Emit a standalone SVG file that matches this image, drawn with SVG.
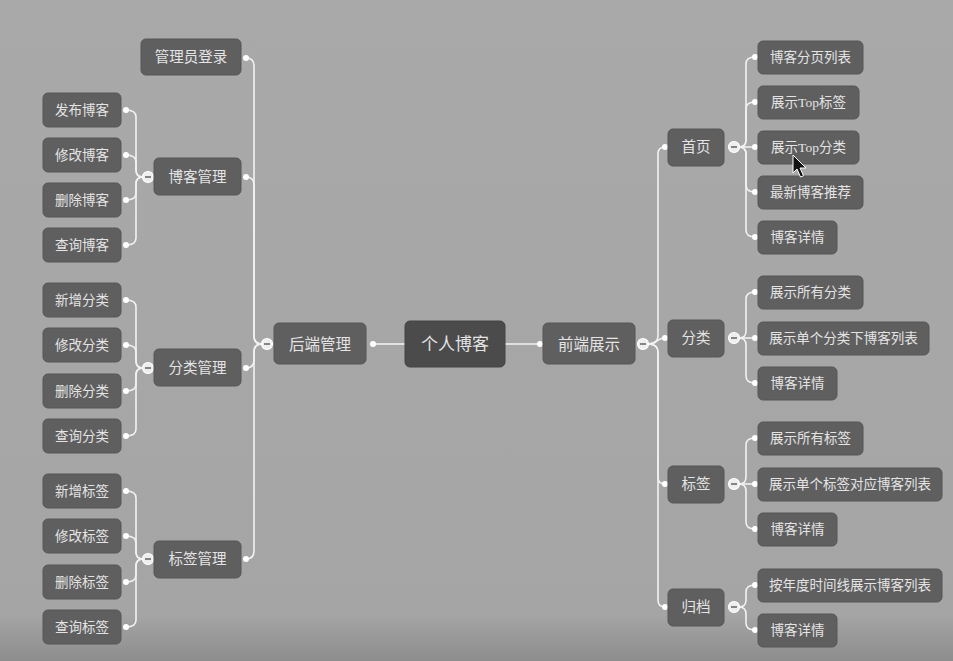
<svg xmlns="http://www.w3.org/2000/svg" width="953" height="661" viewBox="0 0 953 661">
<defs>
<linearGradient id="bg" x1="0" y1="0" x2="0" y2="1">
<stop offset="0" stop-color="#a9a9a9"/>
<stop offset="0.93" stop-color="#a5a5a5"/>
<stop offset="1" stop-color="#8d8d8d"/>
</linearGradient>
<style>
.n{fill:#5f5f5f;stroke:#575757;stroke-width:1}
.c{fill:#4b4b4b;stroke:#454545;stroke-width:1}
text{font-family:"Liberation Serif","Noto Sans CJK SC",serif;fill:#e4e4e4;text-anchor:middle;dominant-baseline:central}
.l{font-size:13.5px}
.m{font-size:14.5px}
.b{font-size:15.5px}
.h{font-size:17px}
.e{fill:none;stroke:#f2f2f2;stroke-width:1.6}
.d{fill:#ffffff}
.k{fill:#eeeeee;stroke:#ffffff;stroke-width:1.2}
.km{stroke:#6a6a6a;stroke-width:1.6}
</style>
</defs>
<rect x="0" y="0" width="953" height="661" fill="url(#bg)"/>

<g id="connectors">
<path class="e" d="M405,344 L373,344"/>
<path class="e" d="M505,344 L540,344"/>
<path class="e" d="M262,344 Q254,344 254,336 L254,66 Q254,58 246,58"/>
<path class="e" d="M262,344 Q254,344 254,336 L254,185 Q254,177 246,177"/>
<path class="e" d="M262,344 Q254,344 254,352 L254,360 Q254,368 246,368"/>
<path class="e" d="M262,344 Q254,344 254,352 L254,551 Q254,559 246,559"/>
<path class="e" d="M143,177 Q136,177 136,170 L136,117 Q136,110 126,110"/>
<path class="e" d="M143,177 Q136,177 136,170 L136,162 Q136,155 126,155"/>
<path class="e" d="M143,177 Q136,177 136,184 L136,193 Q136,200 126,200"/>
<path class="e" d="M143,177 Q136,177 136,184 L136,238 Q136,245 126,245"/>
<path class="e" d="M143,368 Q136,368 136,361 L136,307 Q136,300 126,300"/>
<path class="e" d="M143,368 Q136,368 136,361 L136,352 Q136,345 126,345"/>
<path class="e" d="M143,368 Q136,368 136,375 L136,384 Q136,391 126,391"/>
<path class="e" d="M143,368 Q136,368 136,375 L136,429 Q136,436 126,436"/>
<path class="e" d="M143,559 Q136,559 136,552 L136,498 Q136,491 126,491"/>
<path class="e" d="M143,559 Q136,559 136,552 L136,543 Q136,536 126,536"/>
<path class="e" d="M143,559 Q136,559 136,566 L136,575 Q136,582 126,582"/>
<path class="e" d="M143,559 Q136,559 136,566 L136,620 Q136,627 126,627"/>
<path class="e" d="M648,344 Q658,344 658,336 L658,154 Q658,147 665,147"/>
<path class="e" d="M648,344 C658,344 656,338 665,338"/>
<path class="e" d="M648,344 Q658,344 658,352 L658,477 Q658,484 665,484"/>
<path class="e" d="M648,344 Q658,344 658,352 L658,600 Q658,607 665,607"/>
<path class="e" d="M739,147 Q746,147 746,140 L746,64 Q746,57 755,57"/>
<path class="e" d="M739,147 Q746,147 746,140 L746,109 Q746,102 755,102"/>
<path class="e" d="M739,147 L755,147"/>
<path class="e" d="M739,147 Q746,147 746,154 L746,185 Q746,192 755,192"/>
<path class="e" d="M739,147 Q746,147 746,154 L746,230 Q746,237 755,237"/>
<path class="e" d="M739,338 Q746,338 746,331 L746,299 Q746,292 755,292"/>
<path class="e" d="M739,338 L755,338"/>
<path class="e" d="M739,338 Q746,338 746,345 L746,376 Q746,383 755,383"/>
<path class="e" d="M739,484 Q746,484 746,477 L746,445 Q746,438 755,438"/>
<path class="e" d="M739,484 L755,484"/>
<path class="e" d="M739,484 Q746,484 746,491 L746,522 Q746,529 755,529"/>
<path class="e" d="M739,607 Q746,607 746,600 L746,592 Q746,585 755,585"/>
<path class="e" d="M739,607 Q746,607 746,614 L746,623 Q746,630 755,630"/>
<g id="dots">
<circle class="d" cx="373" cy="344" r="3"/>
<circle class="d" cx="540" cy="344" r="3"/>
<circle class="d" cx="246" cy="58" r="3"/>
<circle class="d" cx="246" cy="177" r="3"/>
<circle class="d" cx="246" cy="368" r="3"/>
<circle class="d" cx="246" cy="559" r="3"/>
<circle class="d" cx="126" cy="110" r="3"/>
<circle class="d" cx="126" cy="155" r="3"/>
<circle class="d" cx="126" cy="200" r="3"/>
<circle class="d" cx="126" cy="245" r="3"/>
<circle class="d" cx="126" cy="300" r="3"/>
<circle class="d" cx="126" cy="345" r="3"/>
<circle class="d" cx="126" cy="391" r="3"/>
<circle class="d" cx="126" cy="436" r="3"/>
<circle class="d" cx="126" cy="491" r="3"/>
<circle class="d" cx="126" cy="536" r="3"/>
<circle class="d" cx="126" cy="582" r="3"/>
<circle class="d" cx="126" cy="627" r="3"/>
<circle class="d" cx="665" cy="147" r="3"/>
<circle class="d" cx="665" cy="338" r="3"/>
<circle class="d" cx="665" cy="484" r="3"/>
<circle class="d" cx="665" cy="607" r="3"/>
<circle class="d" cx="755" cy="57" r="3"/>
<circle class="d" cx="755" cy="102" r="3"/>
<circle class="d" cx="755" cy="147" r="3"/>
<circle class="d" cx="755" cy="192" r="3"/>
<circle class="d" cx="755" cy="237" r="3"/>
<circle class="d" cx="755" cy="292" r="3"/>
<circle class="d" cx="755" cy="338" r="3"/>
<circle class="d" cx="755" cy="383" r="3"/>
<circle class="d" cx="755" cy="438" r="3"/>
<circle class="d" cx="755" cy="484" r="3"/>
<circle class="d" cx="755" cy="529" r="3"/>
<circle class="d" cx="755" cy="585" r="3"/>
<circle class="d" cx="755" cy="630" r="3"/>
</g>
<g id="collapse">
<circle class="k" cx="267" cy="344" r="5.5"/><line class="km" x1="264" y1="344" x2="270" y2="344"/>
<circle class="k" cx="643" cy="344" r="5.5"/><line class="km" x1="640" y1="344" x2="646" y2="344"/>
<circle class="k" cx="148" cy="177" r="5.5"/><line class="km" x1="145" y1="177" x2="151" y2="177"/>
<circle class="k" cx="148" cy="368" r="5.5"/><line class="km" x1="145" y1="368" x2="151" y2="368"/>
<circle class="k" cx="148" cy="559" r="5.5"/><line class="km" x1="145" y1="559" x2="151" y2="559"/>
<circle class="k" cx="734" cy="147" r="5.5"/><line class="km" x1="731" y1="147" x2="737" y2="147"/>
<circle class="k" cx="734" cy="338" r="5.5"/><line class="km" x1="731" y1="338" x2="737" y2="338"/>
<circle class="k" cx="734" cy="484" r="5.5"/><line class="km" x1="731" y1="484" x2="737" y2="484"/>
<circle class="k" cx="734" cy="607" r="5.5"/><line class="km" x1="731" y1="607" x2="737" y2="607"/>
</g>
</g>

<g id="root"><rect class="c" x="405" y="321" width="100" height="46" rx="5"/><text class="h" x="455" y="344">个人博客</text></g>
<g id="backend"><rect class="n" x="274" y="323" width="92" height="41" rx="5"/><text class="b" x="320" y="344">后端管理</text></g>
<g id="frontend"><rect class="n" x="543" y="323" width="92" height="41" rx="5"/><text class="b" x="589" y="344">前端展示</text></g>

<g id="admin-login"><rect class="n" x="141" y="39" width="100" height="36" rx="5"/><text class="m" x="191" y="57">管理员登录</text></g>
<g id="blog-mgmt"><rect class="n" x="154" y="158" width="87" height="37" rx="5"/><text class="m" x="197.5" y="177">博客管理</text></g>
<g id="cat-mgmt"><rect class="n" x="154" y="349" width="87" height="37" rx="5"/><text class="m" x="197.5" y="368">分类管理</text></g>
<g id="tag-mgmt"><rect class="n" x="154" y="541" width="87" height="37" rx="5"/><text class="m" x="197.5" y="559">标签管理</text></g>

<g id="blog-add"><rect class="n" x="43" y="93" width="78" height="34" rx="5"/><text class="l" x="82" y="110">发布博客</text></g>
<g id="blog-edit"><rect class="n" x="43" y="138" width="78" height="34" rx="5"/><text class="l" x="82" y="155">修改博客</text></g>
<g id="blog-del"><rect class="n" x="43" y="183" width="78" height="34" rx="5"/><text class="l" x="82" y="200">删除博客</text></g>
<g id="blog-query"><rect class="n" x="43" y="228" width="78" height="34" rx="5"/><text class="l" x="82" y="245">查询博客</text></g>
<g id="cat-add"><rect class="n" x="43" y="283" width="78" height="34" rx="5"/><text class="l" x="82" y="300">新增分类</text></g>
<g id="cat-edit"><rect class="n" x="43" y="328" width="78" height="34" rx="5"/><text class="l" x="82" y="345">修改分类</text></g>
<g id="cat-del"><rect class="n" x="43" y="374" width="78" height="34" rx="5"/><text class="l" x="82" y="391">删除分类</text></g>
<g id="cat-query"><rect class="n" x="43" y="419" width="78" height="34" rx="5"/><text class="l" x="82" y="436">查询分类</text></g>
<g id="tag-add"><rect class="n" x="43" y="474" width="78" height="34" rx="5"/><text class="l" x="82" y="491">新增标签</text></g>
<g id="tag-edit"><rect class="n" x="43" y="519" width="78" height="34" rx="5"/><text class="l" x="82" y="536">修改标签</text></g>
<g id="tag-del"><rect class="n" x="43" y="565" width="78" height="34" rx="5"/><text class="l" x="82" y="582">删除标签</text></g>
<g id="tag-query"><rect class="n" x="43" y="610" width="78" height="34" rx="5"/><text class="l" x="82" y="627">查询标签</text></g>

<g id="home"><rect class="n" x="668" y="129" width="56" height="37" rx="5"/><text class="m" x="696" y="147">首页</text></g>
<g id="category"><rect class="n" x="668" y="320" width="56" height="37" rx="5"/><text class="m" x="696" y="338">分类</text></g>
<g id="tag"><rect class="n" x="668" y="466" width="56" height="37" rx="5"/><text class="m" x="696" y="484">标签</text></g>
<g id="archive"><rect class="n" x="668" y="589" width="56" height="37" rx="5"/><text class="m" x="696" y="607">归档</text></g>

<g id="home-list"><rect class="n" x="758" y="41" width="105" height="33" rx="5"/><text class="l" x="810.5" y="57">博客分页列表</text></g>
<g id="home-toptag"><rect class="n" x="758" y="86" width="101" height="33" rx="5"/><text class="l" x="808.5" y="102">展示Top标签</text></g>
<g id="home-topcat"><rect class="n" x="758" y="131" width="101" height="33" rx="5"/><text class="l" x="808.5" y="147">展示Top分类</text></g>
<g id="home-latest"><rect class="n" x="758" y="176" width="105" height="33" rx="5"/><text class="l" x="810.5" y="192">最新博客推荐</text></g>
<g id="home-detail"><rect class="n" x="758" y="221" width="79" height="33" rx="5"/><text class="l" x="797.5" y="237">博客详情</text></g>
<g id="cat-all"><rect class="n" x="758" y="276" width="105" height="33" rx="5"/><text class="l" x="810.5" y="292">展示所有分类</text></g>
<g id="cat-single"><rect class="n" x="758" y="322" width="171" height="33" rx="5"/><text class="l" x="843.5" y="338">展示单个分类下博客列表</text></g>
<g id="cat-detail"><rect class="n" x="758" y="367" width="79" height="33" rx="5"/><text class="l" x="797.5" y="383">博客详情</text></g>
<g id="tag-all"><rect class="n" x="758" y="422" width="105" height="33" rx="5"/><text class="l" x="810.5" y="438">展示所有标签</text></g>
<g id="tag-single"><rect class="n" x="758" y="468" width="184" height="33" rx="5"/><text class="l" x="850" y="484">展示单个标签对应博客列表</text></g>
<g id="tag-detail"><rect class="n" x="758" y="513" width="79" height="33" rx="5"/><text class="l" x="797.5" y="529">博客详情</text></g>
<g id="archive-year"><rect class="n" x="758" y="569" width="184" height="33" rx="5"/><text class="l" x="850" y="585">按年度时间线展示博客列表</text></g>
<g id="archive-detail"><rect class="n" x="758" y="614" width="79" height="33" rx="5"/><text class="l" x="797.5" y="630">博客详情</text></g>

<g id="cursor"><path d="M793,155 L793,173 L797,169 L800.5,177 L803.5,175.8 L800,168 L806,168 Z" fill="#111" stroke="#fff" stroke-width="1"/></g>
</svg>
